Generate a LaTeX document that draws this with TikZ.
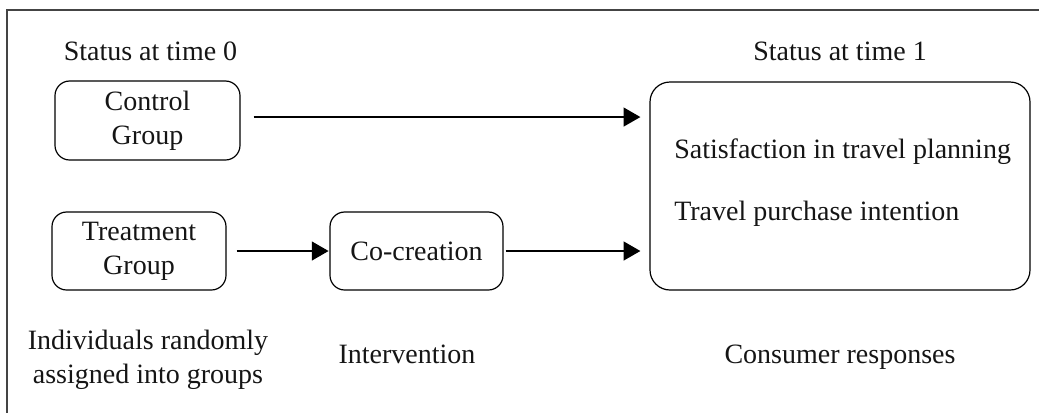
\documentclass[tikz,border=0pt]{standalone}
\usepackage{fontspec}
\setmainfont{Liberation Serif}
\usetikzlibrary{arrows.meta}
\definecolor{txt}{HTML}{151515}
\definecolor{frame}{HTML}{444444}
\tikzset{
  box/.style={draw=black, line width=0.9pt, rounded corners=11pt, align=center, inner sep=0pt},
  lbl/.style={text=txt, align=center, inner sep=0pt},
  arr/.style={line width=1.4pt, -{Triangle[length=12.5pt, width=14pt]}},
}
\begin{document}
\begin{tikzpicture}[x=0.75pt, y=-0.75pt, font=\fontsize{21}{25.5}\selectfont, text=txt]
\useasboundingbox (0,0) rectangle (1039,412);
\begin{scope}
\clip (0,0) rectangle (1039,412);
\draw[frame, line width=1.2pt] (7,10) rectangle (1060,430);
\end{scope}

% headers
\node[lbl, anchor=base] (h0) at (150.5,60) {Status at time 0};
\node[lbl, anchor=base] (h1) at (840,60) {Status at time 1};

% boxes
\node[box, minimum width=138.75pt, minimum height=59.25pt] (ctrl) at (147.5,120.5) {Control\\Group};
\node[box, minimum width=130.5pt, minimum height=58.5pt] (treat) at (139,251) {Treatment\\Group};
\node[box, minimum width=129.75pt, minimum height=58.5pt] (cocr) at (416.5,251) {Co-creation};
\node[box, rounded corners=15pt, minimum width=285pt, minimum height=156pt] (resp) at (840,186) {};

\node[lbl, anchor=base west] (sat) at (674,158) {Satisfaction in travel planning};
\node[lbl, anchor=base west] (pur) at (674,220) {Travel purchase intention};

% bottom labels
\node[lbl] (ind) at (148,360) {Individuals randomly\\assigned into groups};
\node[lbl, anchor=base] (int) at (407,363) {Intervention};
\node[lbl, anchor=base] (con) at (840,363) {Consumer responses};

% arrows
\draw[arr] ([xshift=9.75pt, yshift=2.6pt]ctrl.east) -- ([xshift=-6.75pt, yshift=2.6pt]ctrl.east -| resp.west);
\draw[arr] ([xshift=7.5pt]treat.east) -- ([xshift=-0.6pt]cocr.west);
\draw[arr] ([xshift=1.5pt]cocr.east) -- ([xshift=-6.75pt]cocr.east -| resp.west);
\end{tikzpicture}
\end{document}
